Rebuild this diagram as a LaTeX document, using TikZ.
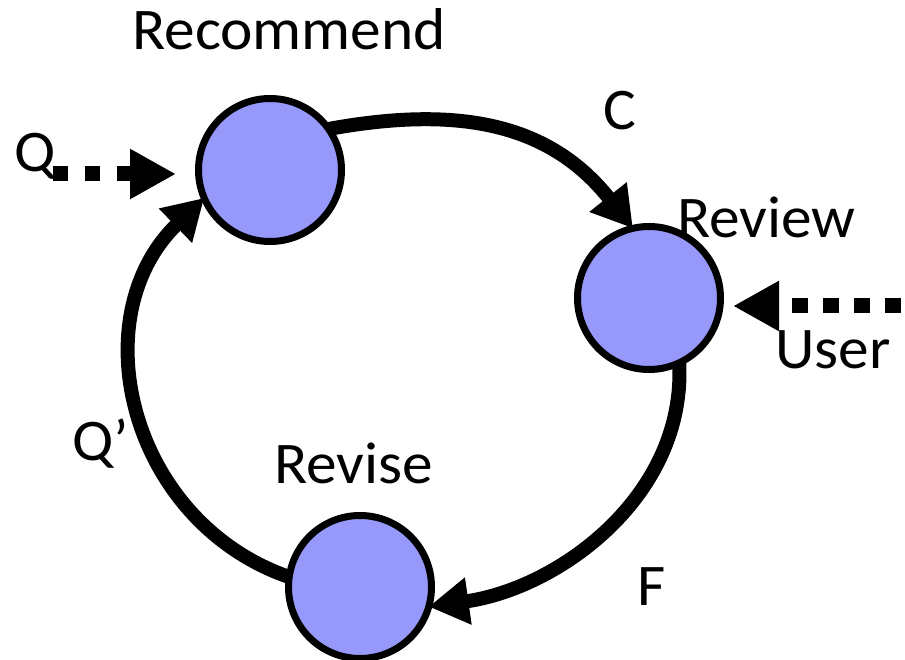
\documentclass[tikz,border=0pt]{standalone}
\usepackage{fontspec}
\setmainfont{Carlito}[FakeStretch=1.04]
\usetikzlibrary{arrows.meta,backgrounds}
\definecolor{nodeblue}{RGB}{150,152,250}
\begin{document}
\begin{tikzpicture}[x=1pt,y=-1pt,
  stage/.style={circle,draw=black,line width=7pt,fill=nodeblue,minimum size=143pt,inner sep=0pt,outer sep=0pt},
  lbl/.style={inner sep=0pt,anchor=base west,font=\fontsize{59}{62}\selectfont},
  flow/.style={line width=14pt,-{Triangle[length=40pt,width=45pt]}},
  inflow/.style={line width=15pt,dash pattern=on 15pt off 17pt,-{Triangle[length=46pt,width=47pt]}}]
\useasboundingbox (0,0) rectangle (905,660);
\node[stage] (rec) at (270,170) {};
\node[stage] (rev) at (649,298) {};
\node[stage] (rvs) at (360,587) {};
\begin{scope}[on background layer]
\draw[flow] (rec.35) .. controls (460,105) and (550,124) .. (rev.103);
\draw[flow] (rev.-65) .. controls (686,495) and (560,588) .. (rvs.-16);
\draw[flow] (rvs.172) .. controls (130,522) and (80,318) .. (rec.203);
\end{scope}
\coordinate (qs) at (53,174);
\coordinate (qe) at (176,174);
\coordinate (us) at (901,306);
\coordinate (ue) at (733,306);
\draw[inflow] (qs) -- (qe);
\draw[inflow,dash pattern=on 16pt off 15pt] (us) -- (ue);
\node[lbl] (trec) at (132,50) {Recommend};
\node[lbl] (tc) at (603,130) {C};
\node[lbl] (trev) at (677,238) {Review};
\node[lbl] (tuser) at (775,368) {User};
\node[lbl] (trvs) at (274,483) {Revise};
\node[lbl] (tqp) at (72,460) {Q’};
\node[lbl] (tf) at (637,605) {F};
\node[lbl] (tq) at (14,172) {Q};
\end{tikzpicture}
\end{document}
